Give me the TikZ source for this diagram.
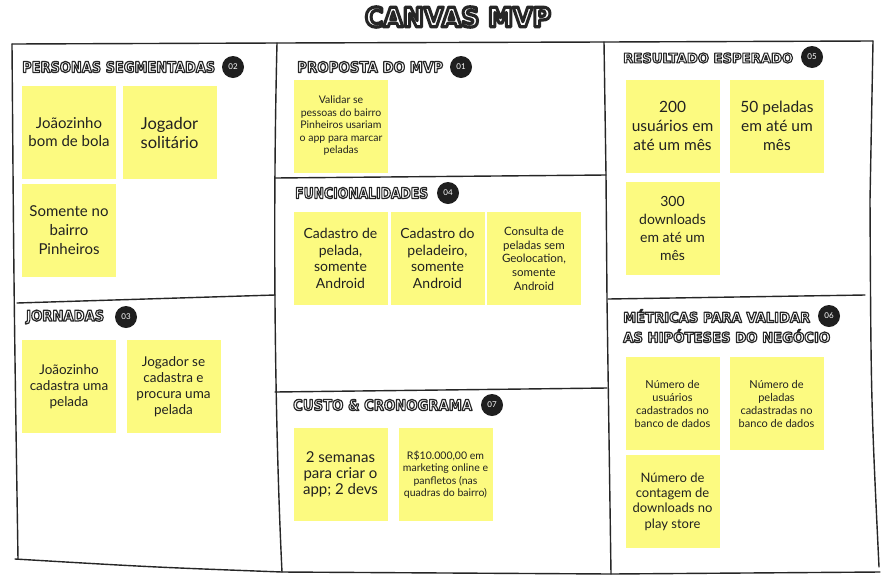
\documentclass[tikz,border=0pt]{standalone}
\usepackage{fontspec}
\usepackage{graphicx}
\setmainfont{Lato}
\newfontfamily\hdrfont{DejaVu Sans}
\definecolor{stickyc}{RGB}{252,250,128}
% outlined text: one copy of the text, filled white and stroked dark
\newcommand\oltext[4]{\resizebox{#1}{#2}{\color{white}\special{pdf:literal 2 Tr #3 w 1 j 0.15 0.15 0.15 RG}\hdrfont\bfseries #4\special{pdf:literal 0 Tr}}}
\newcommand\hdrtxt[3]{\oltext{#1}{#2}{0.85}{#3}}
\newcommand\nf[2]{\fontsize{#1}{#2}\selectfont}
\begin{document}
\begin{tikzpicture}[x=1pt,y=-1pt,
 frame/.style={line width=1.4pt, draw=black!85, line cap=round, line join=round},
 note/.style={fill=stickyc, minimum width=94pt, minimum height=93pt, inner sep=0pt, align=center, text=black!87},
 badge/.style={circle, fill=black!88, text=white, minimum size=22pt, inner sep=0pt, font=\nf{8}{8}},
 hdr/.style={anchor=west, inner sep=0pt}]
\useasboundingbox[fill=white] (0,0) rectangle (888,587);

% title
\node[inner sep=0pt] (title) at (458,17) {\oltext{186pt}{20pt}{1.2}{CANVAS MVP}};

% frame
\draw[frame] (12,44) -- (278,43) -- (605,42) -- (873,41);
\draw[frame] (12,44) .. controls (14,300) .. (18,559);
\draw[frame] (15,559) .. controls (150,567) .. (282,572) -- (611,574) -- (880,572);
\draw[frame] (277,43) .. controls (272,250) and (276,450) .. (282,572);
\draw[frame] (17,303) -- (275,295);
\draw[frame] (604,42) -- (606,175) -- (607,300) -- (611,574);
\draw[frame] (275,178) -- (606,175);
\draw[frame] (275,392) -- (607,388);
\draw[frame] (608,299) -- (865,295);
\draw[frame] (873,41) -- (870,200) .. controls (871,400) .. (879,567);

% headers
\node[hdr] (hPers) at (22,67) {\hdrtxt{193pt}{11pt}{PERSONAS SEGMENTADAS}};
\node[badge] (b02) at (233,67) {02};
\node[hdr] (hProp) at (297,67) {\hdrtxt{146pt}{11pt}{PROPOSTA DO MVP}};
\node[badge] (b01) at (461,67) {01};
\node[hdr] (hRes) at (623,58) {\hdrtxt{170pt}{10pt}{RESULTADO ESPERADO}};
\node[badge] (b05) at (812,57) {05};
\node[hdr] (hFunc) at (295,193) {\hdrtxt{133pt}{11pt}{FUNCIONALIDADES}};
\node[badge] (b04) at (448,193) {04};
\node[hdr] (hJorn) at (26,317) {\hdrtxt{78pt}{11pt}{JORNADAS}};
\node[badge] (b03) at (126,317) {03};
\node[hdr] (hMet1) at (623,316) {\hdrtxt{187pt}{13pt}{MÉTRICAS PARA VALIDAR}};
\node[hdr] (hMet2) at (623,336) {\hdrtxt{207pt}{13pt}{AS HIPÓTESES DO NEGÓCIO}};
\node[badge] (b06) at (829,316) {06};
\node[hdr] (hCust) at (293,405) {\hdrtxt{179pt}{11pt}{CUSTO \& CRONOGRAMA}};
\node[badge] (b07) at (492,405) {07};

% personas
\node[note, font=\nf{15}{18}] (p1) at (69,132.5) {Joãozinho\\bom de bola};
\node[note, font=\nf{16.5}{19}] (p2) at (169.5,132.5) {Jogador\\solitário};
\node[note, font=\nf{15}{19}] (p3) at (69,230.5) {Somente no\\bairro\\Pinheiros};
% proposta
\node[note, font=\nf{10.5}{12.5}] (pr1) at (341,126) {Validar se\\pessoas do bairro\\Pinheiros usariam\\o app para marcar\\peladas};
% resultado
\node[note, font=\nf{15.5}{19}] (r1) at (672.5,126) {200\\usuários em\\até um mês};
\node[note, font=\nf{15.5}{19}] (r2) at (777,126) {50 peladas\\em até um\\mês};
\node[note, font=\nf{14}{18}] (r3) at (672.5,228.5) {300\\downloads\\em até um\\mês};
% funcionalidades
\node[note, font=\nf{14}{16.7}] (f1) at (340.5,258.5) {Cadastro de\\pelada,\\somente\\Android};
\node[note, font=\nf{14}{16.7}] (f2) at (437.5,258.5) {Cadastro do\\peladeiro,\\somente\\Android};
\node[note, font=\nf{11.5}{13.7}] (f3) at (534,258.5) {Consulta de\\peladas sem\\Geolocation,\\somente\\Android};
% jornadas
\node[note, font=\nf{13.5}{16.3}] (j1) at (69,386.5) {Joãozinho\\cadastra uma\\pelada};
\node[note, font=\nf{13.5}{16}] (j2) at (173.5,386.5) {Jogador se\\cadastra e\\procura uma\\pelada};
% metricas
\node[note, font=\nf{11}{13}] (m1) at (672.5,403.5) {Número de\\usuários\\cadastrados no\\banco de dados};
\node[note, font=\nf{11}{13}] (m2) at (776.5,403.5) {Número de\\peladas\\cadastradas no\\banco de dados};
\node[note, font=\nf{13}{15.3}] (m3) at (672.5,501.5) {Número de\\contagem de\\downloads no\\play store};
% custo
\node[note, font=\nf{15}{16.2}] (c1) at (340.5,474.5) {2 semanas\\para criar o\\app; 2 devs};
\node[note, font=\nf{10.5}{12.5}] (c2) at (445.5,474.5) {R\$10.000,00 em\\marketing online e\\panfletos (nas\\quadras do bairro)};
\end{tikzpicture}
\end{document}
